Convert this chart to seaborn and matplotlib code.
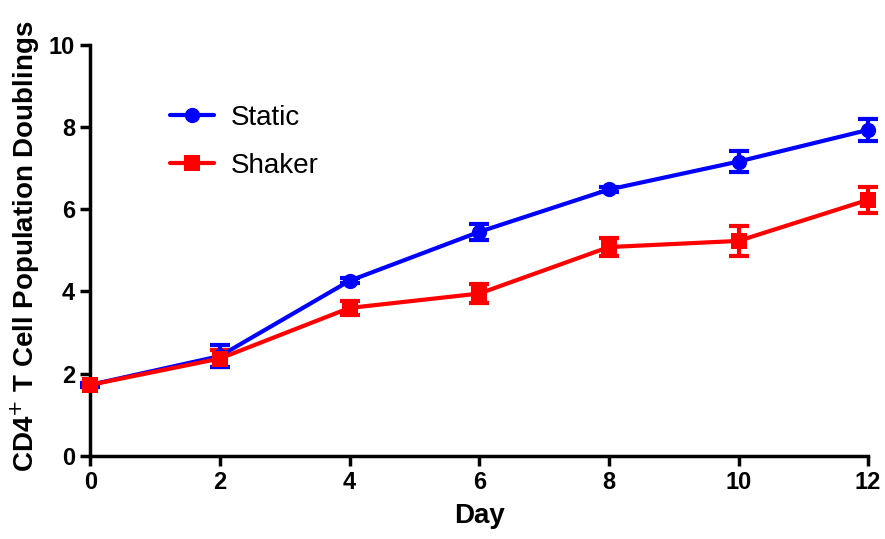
import pandas as pd
import matplotlib
matplotlib.use("Agg")
import matplotlib.pyplot as plt
import seaborn as sns

sns.set_style("ticks")
plt.rcParams['font.family'] = ['Liberation Sans', 'DejaVu Sans']
plt.rcParams.update({'text.color': 'black', 'axes.labelcolor': 'black',
                     'xtick.color': 'black', 'ytick.color': 'black'})

days = [0, 2, 4, 6, 8, 10, 12]
static_mean = [1.73, 2.43, 4.26, 5.45, 6.48, 7.16, 7.93]
static_err = [0.05, 0.27, 0.06, 0.19, 0.06, 0.26, 0.27]
shaker_mean = [1.73, 2.37, 3.60, 3.95, 5.08, 5.23, 6.23]
shaker_err = [0.05, 0.20, 0.18, 0.22, 0.22, 0.36, 0.32]

df = pd.DataFrame({
    'Day': days * 2,
    'Doublings': static_mean + shaker_mean,
    'Err': static_err + shaker_err,
    'Condition': ['Static'] * len(days) + ['Shaker'] * len(days),
})

colors = {'Static': '#0000ff', 'Shaker': '#ff0000'}
markers = {'Static': 'o', 'Shaker': 's'}

fig = plt.figure(figsize=(8.85, 5.39), dpi=100)
ax = fig.add_axes([0.102, 0.154, 0.879, 0.763])

for cond in ['Shaker', 'Static']:
    sub = df[df['Condition'] == cond]
    ax.errorbar(sub['Day'], sub['Doublings'], yerr=sub['Err'], fmt='none',
                ecolor=colors[cond], elinewidth=3, capsize=7, capthick=3, zorder=2)

sns.lineplot(data=df, x='Day', y='Doublings', hue='Condition', style='Condition',
             hue_order=['Static', 'Shaker'], style_order=['Static', 'Shaker'],
             palette=colors, markers=markers, dashes=False, linewidth=3,
             markersize=11, markeredgewidth=0, ax=ax, zorder=3)

ax.set_xlim(0, 12)
ax.set_ylim(0, 10)
ax.set_xticks(days)
ax.set_yticks([0, 2, 4, 6, 8, 10])
for line in ax.lines:
    line.set_clip_on(False)
for coll in ax.collections:
    coll.set_clip_on(False)

for side in ['top', 'right']:
    ax.spines[side].set_visible(False)
for side in ['left', 'bottom']:
    ax.spines[side].set_linewidth(2.5)
    ax.spines[side].set_color('black')
ax.tick_params(width=2.5, length=7, labelsize=17, direction='out', pad=4)
for lab in ax.get_xticklabels() + ax.get_yticklabels():
    lab.set_fontweight('bold')

ax.set_xlabel('Day', fontsize=20, fontweight='bold', labelpad=6)
ax.set_ylabel('CD4$^{+}$ T Cell Population Doublings', fontsize=20, fontweight='bold')
ax.yaxis.set_label_coords(-0.062, 0.51)

leg = ax.legend(loc='upper left', bbox_to_anchor=(0.07, 0.915), frameon=False,
                fontsize=20, handlelength=1.6, handletextpad=0.6,
                labelspacing=0.8, title=None)

fig.savefig('out.png', dpi=100)
